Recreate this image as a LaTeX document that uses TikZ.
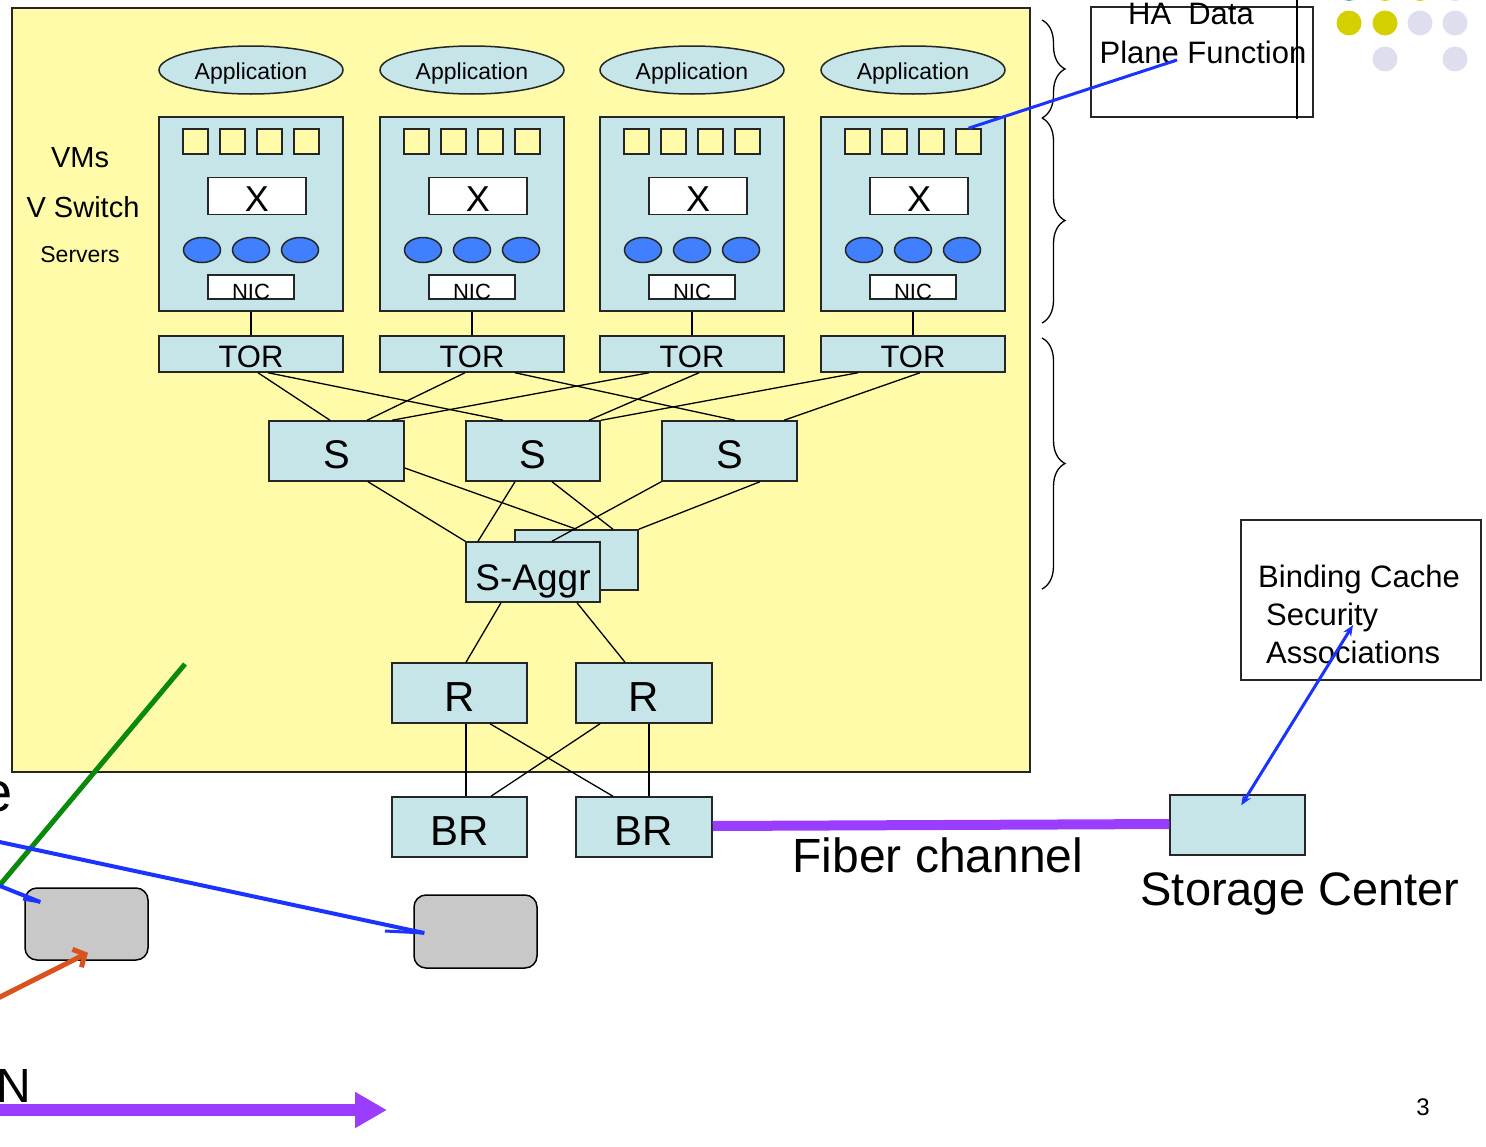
\documentclass[tikz,border=0pt]{standalone}
\usepackage{fontspec}
\setmainfont{Liberation Sans}
\usetikzlibrary{arrows.meta,decorations.pathreplacing,shapes.geometric}
\definecolor{ybg}{RGB}{255,251,168}
\definecolor{lb}{RGB}{197,229,232}
\definecolor{vmblue}{RGB}{64,128,255}
\definecolor{lblue}{RGB}{26,51,255}
\definecolor{lpurple}{RGB}{155,61,255}
\definecolor{lgreen}{RGB}{10,138,10}
\definecolor{lorange}{RGB}{217,83,30}
\definecolor{gbox}{RGB}{200,200,200}
\definecolor{dyellow}{RGB}{212,208,0}
\definecolor{dlav}{RGB}{222,222,238}
\definecolor{dteal}{RGB}{91,168,168}
\begin{document}
\begin{tikzpicture}[x=1pt,y=-1pt,
  fnt/.style={font=\fontsize{#1}{#1}\selectfont},
  tbox/.style={rectangle, draw=black!85, line width=1.5pt, fill=lb, inner sep=0pt},
  wbox/.style={rectangle, draw=black!85, line width=1.5pt, fill=white, inner sep=0pt},
  sqbox/.style={rectangle, draw=black!85, line width=1.5pt, fill=ybg, inner sep=0pt, minimum width=25pt, minimum height=25pt},
  vm/.style={ellipse, draw=black!85, line width=1.5pt, fill=vmblue, inner sep=0pt, minimum width=37pt, minimum height=25pt},
  app/.style={ellipse, draw=black!85, line width=1.5pt, fill=lb, inner sep=0pt, minimum width=184pt, minimum height=48pt},
  conn/.style={draw=black, line width=1.3pt},
  bline/.style={draw=lblue, line width=3pt},
  brc/.style={draw=black, line width=1.3pt, decorate, decoration={brace, amplitude=23pt}},
  gray box/.style={rectangle, rounded corners=12pt, draw=black, line width=1.5pt, fill=gbox, inner sep=0pt},
  dot/.style={circle, fill=#1, inner sep=0pt, minimum size=25pt}
]
\useasboundingbox (0,0) rectangle (1486,1146);

% data center background
\node[rectangle, draw=black!85, line width=1.5pt, fill=ybg, minimum width=1018pt, minimum height=764pt, inner sep=0pt] (dc) at (521,390) {};

% left labels
\node[fnt=29, inner sep=0pt] (lvm) at (80,158) {VMs};
\node[fnt=29, inner sep=0pt] (lvs) at (83,207) {V Switch};
\node[fnt=23, inner sep=0pt] (lsv) at (80,255) {Servers};

% servers
\foreach \i/\cx in {1/251,2/472,3/692,4/913} {
  \node[app, label={[fnt=23, yshift=-4pt]center:Application}] (app\i) at (\cx,70) {};
  \node[tbox, minimum width=184pt, minimum height=194pt] (srv\i) at (\cx,214) {};
  \foreach \j/\dx in {1/-55.5,2/-18.5,3/18.5,4/55.5}
    \node[sqbox] (sq\i\j) at ({\cx+\dx},141.5) {};
  \node[wbox, minimum width=98pt, minimum height=37pt, label={[fnt=36, yshift=-3pt]center:X}] (x\i) at ({\cx+6},196) {};
  \foreach \j/\dx in {1/-49,2/0,3/49}
    \node[vm] (e\i\j) at ({\cx+\dx},250) {};
  \node[wbox, minimum width=86pt, minimum height=24pt, label={[fnt=22, yshift=-5pt]center:NIC}] (nic\i) at (\cx,287) {};
  \node[tbox, minimum width=184pt, minimum height=36pt, label={[fnt=31, yshift=-3pt]center:TOR}] (tor\i) at (\cx,354) {};
  \draw[conn] (srv\i) -- (tor\i);
}

% spine switches
\node[tbox, minimum width=135pt, minimum height=60pt, label={[fnt=40, yshift=-4pt]center:S}] (s1) at (336.5,451) {};
\node[tbox, minimum width=134pt, minimum height=60pt, label={[fnt=40, yshift=-4pt]center:S}] (s2) at (533,451) {};
\node[tbox, minimum width=135pt, minimum height=60pt, label={[fnt=40, yshift=-4pt]center:S}] (s3) at (729.5,451) {};

\draw[conn] ([xshift=7pt]tor1.south) -- ([xshift=-6.5pt]s1.north);
\draw[conn] ([xshift=17pt]tor1.south) -- ([xshift=-30pt]s2.north);
\draw[conn] ([xshift=-7pt]tor2.south) -- ([xshift=30.5pt]s1.north);
\draw[conn] ([xshift=43pt]tor2.south) -- ([xshift=5.5pt]s3.north);
\draw[conn] ([xshift=-43pt]tor3.south) -- ([xshift=55.5pt]s1.north);
\draw[conn] ([xshift=7pt]tor3.south) -- ([xshift=56pt]s2.north);
\draw[conn] ([xshift=-55pt]tor4.south) -- ([xshift=68pt]s2.north);
\draw[conn] ([xshift=7pt]tor4.south) -- ([xshift=54.5pt]s3.north);

% aggregation
\node[tbox, minimum width=123pt, minimum height=60pt] (aggb) at (576.5,560) {};
\draw[conn] ([yshift=-17pt]s1.east) -- (aggb.north);
\draw[conn] ([xshift=19pt]s2.south) -- ([xshift=36.5pt]aggb.north);
\draw[conn] ([xshift=30.5pt]s3.south) -- (aggb.north east);
\node[tbox, minimum width=134pt, minimum height=60pt, label={[fnt=37, yshift=-9pt]center:S-Aggr}] (agg) at (533,572) {};
\draw[conn] (s3.south west) -- ([xshift=19pt]agg.north);
\draw[conn] ([xshift=31.5pt]s1.south) -- (agg.north west);
\draw[conn] ([xshift=-18pt]s2.south) -- ([xshift=-55pt]agg.north);

% routers
\node[tbox, minimum width=135pt, minimum height=60pt, label={[fnt=42, yshift=-4pt]center:R}] (r1) at (459.5,693) {};
\node[tbox, minimum width=136pt, minimum height=60pt, label={[fnt=42, yshift=-4pt]center:R}] (r2) at (644,693) {};
\node[tbox, minimum width=135pt, minimum height=60pt, label={[fnt=42, yshift=-4pt]center:BR}] (br1) at (459.5,827) {};
\node[tbox, minimum width=136pt, minimum height=60pt, label={[fnt=42, yshift=-4pt]center:BR}] (br2) at (644,827) {};

\draw[conn] ([xshift=-32pt]agg.south) -- ([xshift=6.5pt]r1.north);
\draw[conn] ([xshift=44pt]agg.south) -- ([xshift=-19pt]r2.north);
\draw[conn] ([xshift=6.5pt]r1.south) -- ([xshift=6.5pt]br1.north);
\draw[conn] ([xshift=30.5pt]r1.south) -- ([xshift=-31pt]br2.north);
\draw[conn] ([xshift=-44pt]r2.south) -- ([xshift=31.5pt]br1.north);
\draw[conn] ([xshift=5pt]r2.south) -- ([xshift=5pt]br2.north);

% braces
\draw[brc] (1042,20) -- (1042,118);
\draw[brc] (1042,118) -- (1042,323);
\draw[brc] (1042,338) -- (1042,589);

% HA box
\node[rectangle, draw=black!85, line width=1.5pt, minimum width=222pt, minimum height=110pt, inner sep=0pt] (ha) at (1202,62) {};
\node[fnt=31, anchor=base, inner sep=0pt] (hat1) at (1191,24) {HA\hspace{8.5pt} Data};
\node[fnt=31, anchor=base, inner sep=0pt] (hat2) at (1203,63) {Plane Function};
\coordinate (vtop) at (1297,-2);
\coordinate (vbot) at (1297,119);
\draw[black, line width=2pt] (vtop) -- (vbot);
\coordinate (hapt) at (1177,60);
\draw[bline] (sq44.north) -- (hapt);

% dots
\node[dot=dteal] (d01) at (1349,-11.5) {};
\node[dot=dyellow] (d02) at (1385,-11.5) {};
\node[dot=dyellow] (d03) at (1420,-11.5) {};
\node[dot=dlav] (d04) at (1455,-11.5) {};
\node[dot=dyellow] (d11) at (1349,23) {};
\node[dot=dyellow] (d12) at (1385,23) {};
\node[dot=dlav] (d13) at (1420,23) {};
\node[dot=dlav] (d14) at (1455,23) {};
\node[dot=dlav] (d22) at (1385,59) {};
\node[dot=dlav] (d24) at (1455,59) {};

% binding cache
\node[rectangle, draw=black!85, line width=1.5pt, minimum width=240pt, minimum height=160pt, inner sep=0pt] (bind) at (1361,600) {};
\node[fnt=31, anchor=base west, inner sep=0pt] (bc1) at (1258,587) {Binding Cache};
\node[fnt=31, anchor=base west, inner sep=0pt] (bc2) at (1266,625) {Security};
\node[fnt=31, anchor=base west, inner sep=0pt] (bc3) at (1266,663) {Associations};

% storage
\node[tbox, minimum width=135pt, minimum height=60pt] (stor) at (1237.5,825) {};
\node[fnt=47, anchor=base, inner sep=0pt] (stt) at (1300,905) {Storage Center};
\coordinate (bcpt) at (1353,625);
\draw[bline, {Stealth[length=11pt,width=9pt]}-{Stealth[length=11pt,width=9pt]}] (bcpt) -- ([xshift=72pt,yshift=-11pt]stor.north west);

% fiber channel
\draw[lpurple, line width=10pt] ([yshift=1pt]br2.east) -- ([yshift=1pt]stor.west);
\node[fnt=48, anchor=base, inner sep=0pt] (fct) at (938,872) {Fiber channel};

% gray boxes and lines at lower left
\node[gray box, minimum width=123pt, minimum height=72pt] (g1) at (86.5,924) {};
\node[gray box, minimum width=123pt, minimum height=73pt] (g2) at (475.5,931.5) {};

\coordinate (grt) at (185,664);
\coordinate (grb) at (-6,892);
\draw[lgreen, line width=5pt] (grt) -- (grb);

\coordinate (bl1) at (-5,841);
\draw[bline, line width=4pt] (bl1) -- ([xshift=11pt,yshift=-1.5pt]g2.west);
\coordinate (bl1b) at (385,931);
\draw[bline, line width=3pt] (bl1b) -- ([xshift=11pt,yshift=-1.5pt]g2.west);

\coordinate (bl2) at (-5,884);
\draw[bline, line width=4pt] (bl2) -- ([xshift=16pt,yshift=22pt]g1.west);
\coordinate (bl2b) at (23,899);
\draw[bline, line width=3pt] (bl2b) -- ([xshift=16pt,yshift=22pt]g1.west);

\coordinate (orb) at (-6,1000);
\draw[lorange, line width=5pt, -{Straight Barb[length=9pt,width=20pt]}] (orb) -- ([xshift=1.5pt,yshift=8pt]g1.south);

% text fragments at the left edge
\node[fnt=56, anchor=base east, inner sep=0pt] (te) at (13,811) {e};
\node[fnt=48, anchor=base east, inner sep=0pt] (tn) at (31,1102) {N};

% purple arrow at bottom
\coordinate (pa0) at (-10,1110);
\coordinate (pa1) at (387,1110);
\draw[lpurple, line width=12pt, -{Triangle[length=32pt,width=34pt]}] (pa0) -- (pa1);

% page number
\node[fnt=24, inner sep=0pt] (pg) at (1423,1107) {3};
\end{tikzpicture}
\end{document}
